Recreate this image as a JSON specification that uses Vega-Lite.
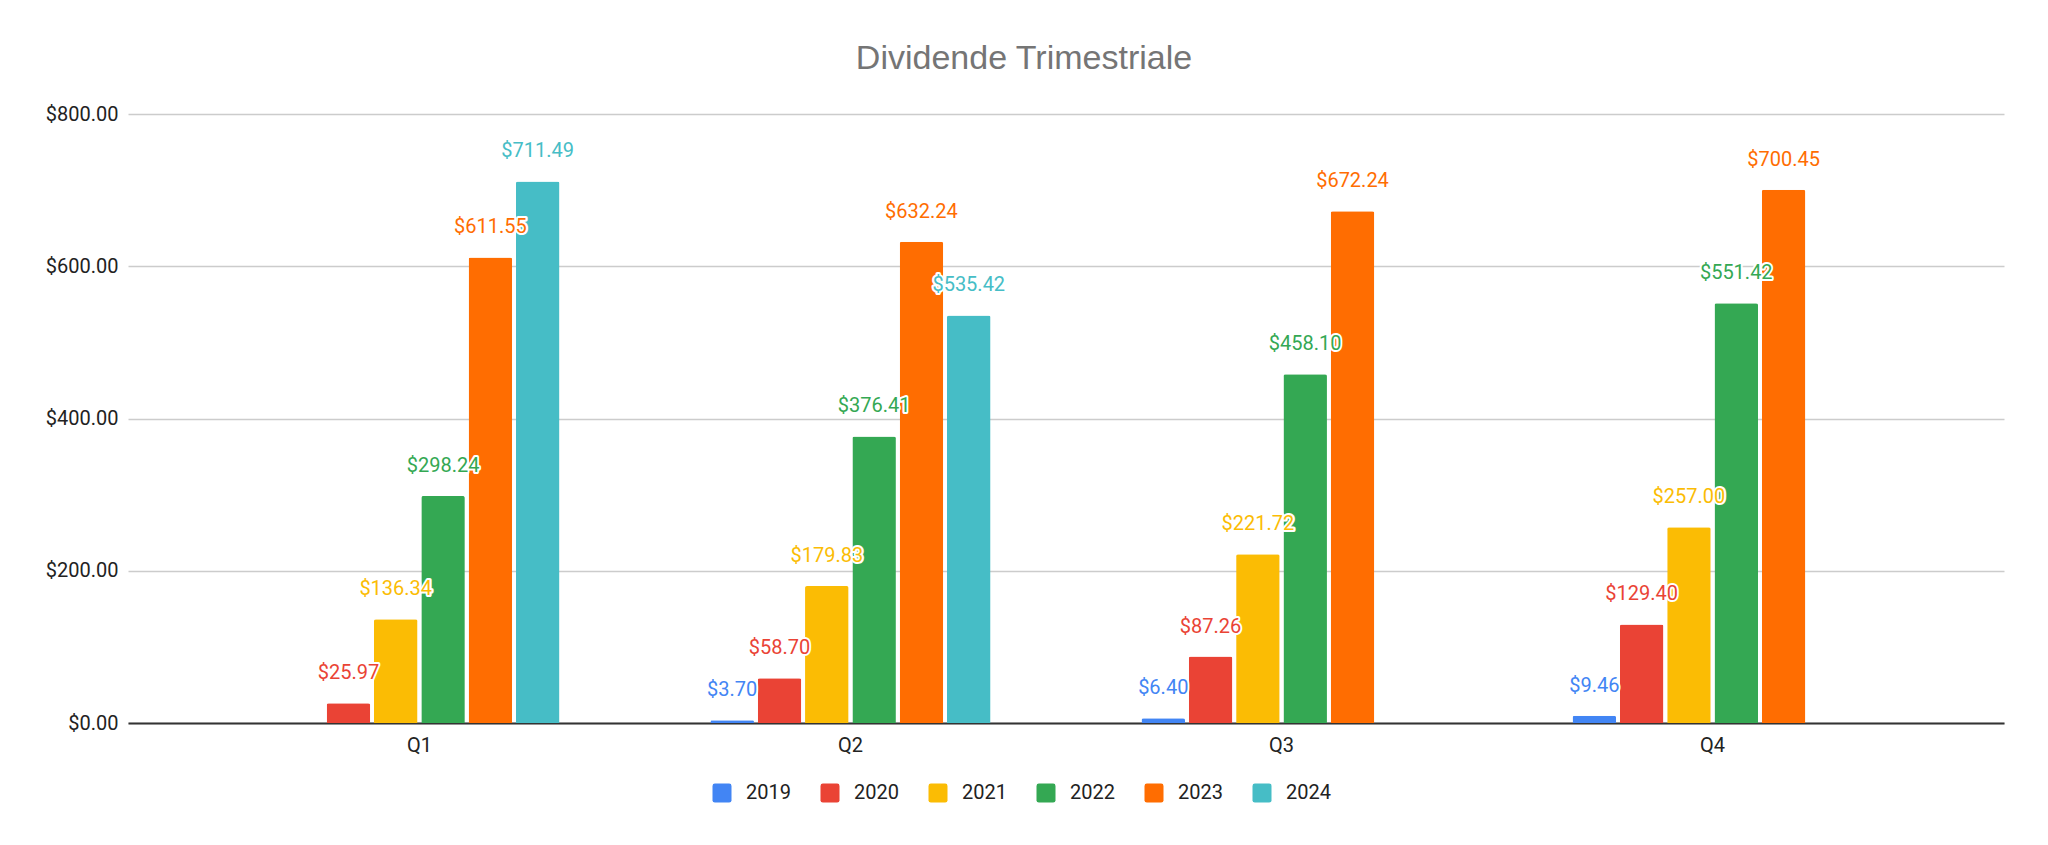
{
  "$schema": "https://vega.github.io/schema/vega-lite/v6.json",
  "autosize": {"type": "none"},
  "padding": {"left": 128, "top": 114, "right": 44, "bottom": 122},
  "width": 1876,
  "height": 609,
  "background": "#ffffff",
  "title": {
    "text": "Dividende Trimestriale",
    "font": "Liberation Sans",
    "fontSize": 34,
    "fontWeight": "normal",
    "color": "#757575",
    "anchor": "middle",
    "dx": -42,
    "offset": 28
  },
  "data": {
    "values": [
      {"quarter": "Q1", "year": "2020", "amount": 25.97},
      {"quarter": "Q1", "year": "2021", "amount": 136.34},
      {"quarter": "Q1", "year": "2022", "amount": 298.24},
      {"quarter": "Q1", "year": "2023", "amount": 611.55},
      {"quarter": "Q1", "year": "2024", "amount": 711.49},
      {"quarter": "Q2", "year": "2019", "amount": 3.70},
      {"quarter": "Q2", "year": "2020", "amount": 58.70},
      {"quarter": "Q2", "year": "2021", "amount": 179.83},
      {"quarter": "Q2", "year": "2022", "amount": 376.41},
      {"quarter": "Q2", "year": "2023", "amount": 632.24},
      {"quarter": "Q2", "year": "2024", "amount": 535.42},
      {"quarter": "Q3", "year": "2019", "amount": 6.40},
      {"quarter": "Q3", "year": "2020", "amount": 87.26},
      {"quarter": "Q3", "year": "2021", "amount": 221.72},
      {"quarter": "Q3", "year": "2022", "amount": 458.10},
      {"quarter": "Q3", "year": "2023", "amount": 672.24},
      {"quarter": "Q4", "year": "2019", "amount": 9.46},
      {"quarter": "Q4", "year": "2020", "amount": 129.40},
      {"quarter": "Q4", "year": "2021", "amount": 257.00},
      {"quarter": "Q4", "year": "2022", "amount": 551.42},
      {"quarter": "Q4", "year": "2023", "amount": 700.45}
    ]
  },
  "encoding": {
    "x": {
      "field": "quarter",
      "type": "nominal",
      "title": null,
      "scale": {"paddingInner": 0.348, "paddingOuter": 0.35},
      "axis": {
        "labelAngle": 0,
        "labelFontSize": 20,
        "labelColor": "#222222",
        "labelPadding": 12,
        "ticks": false,
        "domainColor": "#333333",
        "domainWidth": 2,
        "grid": false
      }
    },
    "xOffset": {
      "field": "year",
      "type": "nominal",
      "scale": {
        "domain": ["2019", "2020", "2021", "2022", "2023", "2024"],
        "paddingInner": 0.08,
        "paddingOuter": 0.01
      }
    },
    "y": {
      "field": "amount",
      "type": "quantitative",
      "title": null,
      "scale": {"domain": [0, 800]},
      "axis": {
        "values": [0, 200, 400, 600, 800],
        "format": "$,.2f",
        "labelFontSize": 20,
        "labelColor": "#222222",
        "labelPadding": 10,
        "ticks": false,
        "domain": false,
        "gridColor": "#cccccc",
        "gridWidth": 1.5
      }
    },
    "color": {
      "field": "year",
      "type": "nominal",
      "title": null,
      "scale": {
        "domain": ["2019", "2020", "2021", "2022", "2023", "2024"],
        "range": ["#4285F4", "#EA4335", "#FBBC04", "#34A853", "#FF6D01", "#46BDC6"]
      },
      "legend": {
        "orient": "none",
        "direction": "horizontal",
        "legendX": 584,
        "legendY": 669,
        "labelFontSize": 20,
        "labelColor": "#222222",
        "labelOffset": 14,
        "columnPadding": 29,
        "symbolSize": 361,
        "symbolStrokeWidth": 0,
        "symbolOpacity": 1,
        "symbolType": "M-1,-0.75Q-1,-1,-0.75,-1L0.75,-1Q1,-1,1,-0.75L1,0.75Q1,1,0.75,1L-0.75,1Q-1,1,-1,0.75Z"
      }
    }
  },
  "layer": [
    {
      "mark": {"type": "bar", "cornerRadiusTopLeft": 2, "cornerRadiusTopRight": 2}
    },
    {
      "mark": {
        "type": "text",
        "baseline": "alphabetic",
        "dy": -24,
        "fontSize": 20,
        "stroke": "#ffffff",
        "strokeWidth": 4,
        "strokeJoin": "round",
        "fill": "#ffffff"
      },
      "encoding": {
        "text": {"field": "amount", "type": "quantitative", "format": "$,.2f"},
        "color": {"value": "#ffffff"}
      }
    },
    {
      "mark": {"type": "text", "baseline": "alphabetic", "dy": -24, "fontSize": 20},
      "encoding": {
        "text": {"field": "amount", "type": "quantitative", "format": "$,.2f"}
      }
    }
  ],
  "config": {
    "font": "Roboto",
    "view": {"stroke": null}
  }
}
